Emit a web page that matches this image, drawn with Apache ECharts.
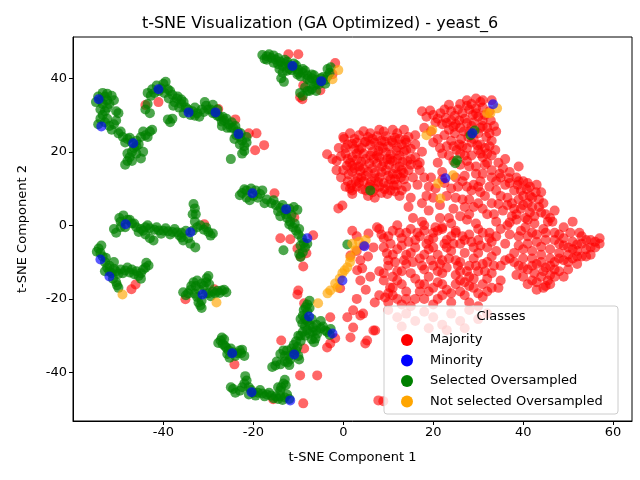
<!DOCTYPE html>
<html><head><meta charset="utf-8">
<script src="https://cdn.jsdelivr.net/npm/echarts@6/dist/echarts.min.js"></script>
<style>html,body{margin:0;padding:0;background:#fff}#c{width:640px;height:480px}</style>
</head><body><div id="c"></div>
<script>
const titleText = 't-SNE Visualization (GA Optimized) - yeast_6';
const seriesNames = ['Majority', 'Minority', 'Selected Oversampled', 'Not selected Oversampled'];
const xTicks = [-40, -20, 0, 20, 40, 60];
const yTicks = [-40, -20, 0, 20, 40];

const majority = [
 // core blob
 [1,22],[2.5,23.5],[4,21],[5.5,24],[7,22.5],[8.5,23],[10,21.5],[11.5,23.8],[13,22],[3,19.5],[5,18],[6.5,20],[8,18.5],[9.5,19.8],[11,17.5],[12.5,19],[14,20.5],[1.5,17],[0.5,19.5],[2,14.5],[3.5,16],[5,13.5],[6.5,15.5],[8,13],[9.5,15],[11,14],[12.5,16],[14.5,15],[1,12],[3,10.5],[4.5,12],[7,10],[9,11.5],[10.5,9.5],[12,11],[13.5,12.5],[0,15],[-1,21],[-0.5,13],[2,8.5],[5.5,8],[8.5,8.8],[15,18],[16,22],[6,25],[9,25.5],[12,25],[3.5,24.5],[14.5,24],[7.5,16.8],[4,17.3],[10.5,12.5],[2.5,20.8],[11.8,20.3],[6.2,12],[13,9.5],[15.5,13],[-1.5,17.5],[1.8,11],[4.8,22.6],[8.8,21],[10.2,16.5],[0.2,23.5],[7.5,24.2],[13.2,17.2],[5.8,10.5],[3.2,13],[9.8,18],[2,16.2],[12,13.8],[6.8,18],[10.8,23],
 [0,24],[1.5,25],[3,22.5],[4.5,19.5],[6,21.8],[7.8,20.2],[9.2,22.8],[10.5,19.2],[12,21.2],[13.8,23.2],[15,20.8],[2,18.5],[3.8,14.8],[5.8,16.8],[7,14.2],[8.6,16],[10,13.5],[11.6,15.5],[13.4,14.2],[14.2,17.5],[0.8,16.2],[-0.5,18.8],[1.2,13.8],[2.8,12],[4.2,9.8],[6,11],[7.8,11.8],[9.2,9.8],[11.2,10.8],[12.8,13],[14,10.5],[16.5,16.5],[16,24.5],[4.5,25.6],[8,26],[11,26],[13.5,26],[2,9.5],[0.5,10.5],[-1.5,15],[17.5,20],[15,7.5],[12.5,8],[7,7.5],
 [0.5,21],[2,22.2],[3.5,20.5],[5,22.8],[6.5,23.5],[8,21.5],[9.5,24.2],[11,22.5],[12.5,23.5],[14,22.5],[3,17.8],[4.5,15.5],[6,19],[7.5,19],[9,17.2],[10.5,18],[12,18],[13.5,20],[1,18],[2.5,15.5],[4,13],[5.5,14.5],[7,12.8],[8.5,14.5],[10,11],[11.5,12.5],[13,15],[15,16.5],[1.5,10],[3.5,11.5],[5,9.5],[6.5,9],[8,10.5],[9.8,8.5],[11.5,9.2],
 // upper right
 [17.5,31],[19.3,31.2],[21.6,30.5],[23.5,32.8],[24.8,29.8],[26.5,30.5],[28,31.5],[29.5,34.5],[31,34],[30,29.5],[32.5,31],[22,27.5],[23.5,26],[25,27.5],[26.8,25.5],[27.5,27.8],[29,23.5],[30.5,26.5],[31.8,24],[32.5,21.5],[33.5,27],[24,23],[25.8,22],[27.5,21],[30,20.5],[22.5,24.5],[20.5,28],[28.5,19],[26,19.5],[31,18.5],[33,23],[34,25.5],[20,22.5],[18,26.5],[28.5,33],[31,32],[29,28],[32,26.5],[30.5,22],[26,33],[24,28.5],[27.8,24],
 [21,29],[22.8,29.2],[25.5,31.5],[27,29],[28.8,30],[31,28.5],[32.8,28.5],[23,21.5],[24.8,25],[26.2,23.5],[28,25.5],[29.8,21.8],[31.5,21],[33.8,20.5],[27,19],[22,19.5],[19.5,25.5],[21,23.5],[25.2,20.5],[29.5,31.8],[33,34],[30.5,33.5],[27.5,34],
 [18.5,29.5],[20,30],[22.5,31.5],[24,31],[25.8,28.5],[27.5,32.5],[29.5,30.5],[31.5,30],[23,27.8],[24.5,26.8],[26,26.5],[28.5,27],[30,25],[31,27],[32.5,25],[24.5,21.5],[26.5,21.5],[28.5,22.5],[30.5,19.5],[32,19.5],[21.5,21],
 // middle
 [16,18.5],[17,15],[16.5,11],[18.5,8],[19,4],[17.5,1],[21,17],[22,14.5],[20.5,10],[23,8],[21.5,5.5],[23.5,2],[25.5,10.5],[27,13.5],[26.5,7],[28.5,9.5],[29,5],[27.5,1.5],[30.5,12],[31.5,8],[32,3],[30,-1],[25,-1.5],[20,-2],[18,0],[24.5,4.5],[19.5,13],[33,15],[31.5,16.5],[28,16],[26,16.5],[23.5,19],[14.5,5],[15.5,2],[22.5,11.5],[29.5,14],
 [17,17],[18,13],[19,10.5],[17.5,6],[20,7.5],[21.5,2],[22,12.5],[24,10],[25,13],[26.5,12],[27.5,10.5],[25,7.5],[28,7],[30,10.5],[30,6],[28,3],[26,2.5],[24,0.5],[22,-0.5],[29.5,16],[32,17],[27.5,17.5],[24.5,17.5],
 // right band
 [33,19],[34.5,17],[35.5,15.5],[37,14.5],[38.5,13],[40,12],[41.5,10.5],[36,18],[34,12],[36,11],[38,9.5],[40,8],[42,7.5],[43,11],[44,9],[35,8],[33,6],[35.5,4],[37.5,6],[39.5,4.5],[41.5,3.5],[43.5,5],[45,3],[34,1],[36.5,0],[38.5,1.5],[40.5,-0.5],[42.5,0.5],[44.5,-1],[46.5,1],[30.5,9],[31,4.5],[29.5,0.5],[32.5,-2],[37,-2.5],[47,4],[49,-0.5],[51,1],[52.5,-2],[27,5],[29,11],[31,14],[39,16],[37.5,2.5],
 [34.8,14],[36.8,12.8],[38.8,11],[40.8,9.8],[42.8,9],[39,7],[41,6],[36.5,7.5],[34.5,5.8],[38.5,3],[40.5,2],[42.5,2.5],[44,3.5],[46,2],[35,-1],[39.5,-1.5],[32.5,10.5],[33,13],
 [35,13],[37,11.5],[39,12],[41,11.5],[39.5,9.5],[41.5,8],[43.5,7],[36.5,5.5],[38,4.5],[40,5.5],[42,5],[44.5,6],[45.5,1],[41,1.5],[37,0.8],[33.5,3],[34,9.5],
 // right blob
 [39,-3],[41,-5],[43,-2.5],[45,-4],[47,-2],[49,-3.5],[51,-4.5],[53,-3],[55,-4],[57,-3.5],[56,-6],[54,-6.5],[52,-7],[50,-6],[48,-7.5],[46,-6.5],[44,-8],[42,-7],[40,-9],[38,-7.5],[39,-11],[41,-12],[43,-10.5],[45,-11.5],[47,-10],[49,-9.5],[51,-9],[53,-8.5],[55,-8],[44,-14],[46,-13.5],[42,-15],[44.5,-17],[48,-12.5],[40,-14],[46,-16],[50,-12],[36,-5],[37,-9],[42,-2],[48,-5],[52,-5.2],
 [40,-6.5],[42,-9],[44,-5.8],[46,-9],[48,-2.5],[50,-8],[52,-10.5],[54,-8.5],[56,-4.5],[50.5,-2],[44.5,-12.5],[42.5,-13],[47,-14],[38.5,-13.5],[41,-16],[43,-17.5],[45.5,-15],[49,-14],
 [41,-3],[43,-4.5],[45,-2],[47,-4],[49,-5.5],[51,-6.5],[53,-5],[55,-6],[57,-5],[54,-4],[48,-9],[50,-10],[52,-8.5],[46,-11],[44,-10],[42,-11],[40,-11.5],[43,-15.5],[45,-16.5],[47,-12],[39,-5.5],[38,-10],
 // lower band
 [8,-1],[10,-3],[12,0],[14,-2],[16,-4],[18,-1.5],[20,-3.5],[22,-1],[24,-3],[26,-5],[28,-2.5],[30,-4],[32,-6],[34,-3],[9,-6],[11,-8],[13,-5.5],[15,-7.5],[17,-9],[19,-6.5],[21,-8],[23,-6],[25,-9.5],[27,-7.5],[29,-9],[31,-10.5],[33,-8.5],[35,-11],[10,-11],[12,-12.5],[14,-10.5],[18,-12],[20,-11],[22,-13],[26,-12.5],[28,-14],[30,-12.5],[32,-14.5],[9,-15],[11,-17],[13,-16],[8,-19],[10,-21],[12,-20],[17,-16],[19,-18],[21,-15.5],[23,-17.5],[25,-16],[27,-19],[29,-17],[31,-19.5],[33,-17],[35,-15],[16,-20],[24,-21],[20,-21.5],
 [9,-3.5],[11,-1.5],[13,-3.5],[15,-1],[17,-3],[19,-4],[21,-1.5],[23,-4],[25,-2],[27,-4],[29,-6],[31,-2],[33,-4.5],[10,-9.5],[12,-6.5],[14,-8],[16,-6],[18,-8],[20,-6],[22,-9.5],[24,-7],[26,-10],[28,-11],[30,-7.5],[32,-10],[34,-7],[36,-9.5],[11,-14],[13,-12.5],[15,-13],[19,-14],[21,-12.5],[23,-11.5],[25,-13.5],[27,-15.5],[29,-14.5],[31,-16],[33,-13],[34.5,-17],[10,-18.5],[14,-18],[18,-20],[22,-19],[26,-18],[28,-21],[30,-22],[15,-22],[13,-21.5],
 [8.5,-2.5],[10.5,-5],[12.5,-2],[14.5,-4.5],[16.5,-2],[18.5,-5],[20.5,-0.5],[22.5,-5],[24.5,-5],[26.5,-3],[28.5,-4.5],[30.5,-5.5],[32.5,-3.5],[11.5,-10],[13.5,-9.5],[15.5,-10],[17.5,-11],[19.5,-9.5],[21.5,-10.5],[23.5,-9],[25.5,-11],[27.5,-12.5],[29.5,-11],[31.5,-12.5],[33.5,-11],[12,-15],[16,-14.5],[18,-16],[20,-17],[22,-16],[24,-18.5],[26,-15],[28,-16.5],[30,-18.5],[32,-18],[9,-13],[11,-19],[14,-20],[17,-18],[21,-20],
 [10,-23],[12,-25],[14,-24],[16,-26],[18,-23.5],[20,-25],[22,-27],[24,-24],[26,-26],[28,-23],[30,-25.5],[32,-24],[19,-28],[23,-28.5],[13,-27.5],[27,-28],
 // lower left of main cluster
 [5.6,-2.2],[7.5,-0.5],[6.7,-6],[9.7,-7.6],[4.2,-11.7],[3.8,-9.5],[6,-14],[8,-12.5],[10.4,-16.9],[9.3,-19.6],[5,-17.5],[7,-21],[3,-20],[0.9,-25],[3.8,-24.5],[2.2,-27.8],[6.7,-28.6],[5.3,-31.3],[-2.9,-25],[1.6,-30.5],[4.9,-32.1],[-2.9,-32.1],[-3.6,-33.2],[-1.8,-30.7],[7.1,-28.6],[2.2,-23.1],[4.4,-24],[3,-3],[4.5,-5.5],[2,-1.5],[-1.1,4.6],[-0.2,5.4],[3.1,-12.2],[3.8,-15],[1.6,-8.2],[-0.7,-17.1],[3,-7],[5.5,-8.5],[7.8,-47.6],[8.9,-47.8],[-3.6,19.3],[-2.4,18],
 // around green clusters
 [-44,32.7],[-41.1,33.5],[-27.8,31.6],[-24,28.8],[-19.3,25],[-19.6,20.4],[-17.6,21.8],[-21,25],
 [-12.2,46.5],[-10,46.5],[-1.8,44.1],[-2.4,41.1],[-8.9,38.1],[-5.1,36.7],[-9.1,34.3],[-9.6,34.8],
 [-15.3,8.7],[-10.9,2.2],[-14,-3.5],[-11.8,-3.8],[-6.7,-2.7],[-10.2,-6.3],[-8.2,-7.6],[-8.9,-11.2],[-9.5,-8.5],
 [-30.9,0.3],[-47.1,-17.4],[-46.2,-16.1],[-35.1,-20.1],[-28.7,-17.4],[-24.2,-37.8],
 [-13.8,-31.3],[-8.7,-33.5],[-9.6,-40.8],[-5.8,-40.8],[-8.9,-48.4],[-10,-17.7],[-8.7,-21.2],[-15.6,-47.3],[-10.2,-18.8]
];

const minority = [
 [-54.4,34.3],[-53.8,26.9],[-46.7,22.3],[-41.1,37],[-34.4,30.7],[-28.4,30.7],[-23.3,24.8],[-11.3,43.3],[-4.9,39.2],[-20.2,8.7],[-12.7,4.4],[-8,-3.5],[-48.4,0.3],[-34,-1.9],[-54,-9.3],[-52,-13.9],[-31.3,-18.8],[-24.7,-34.8],[-20.4,-45.4],[-11.8,-47.6],[-7.6,-24.8],[-2.4,-29.4],[-10.9,-35.1],[-0.2,-15],[4.7,-5.7],[22.7,12.8],[28.7,25],[33.3,32.9]
];

const selected = [
 [-54.5,35],[-53.5,36],[-52.5,35.8],[-51.5,35.2],[-51,34],[-52.5,34],[-53.5,33],[-54,31.5],[-53.5,30],[-54,29],[-53,28],[-52,27],[-51,27.5],[-50.5,31],[-50,30.5],[-50,25],[-49,24],[-48,23.5],[-47,22.5],[-46,23],[-45,24],[-44,24.5],[-43,25.5],[-42.5,26],[-46.5,21],[-47,20],[-47.5,18.5],[-48,17.5],[-48.5,16.5],[-46,19.5],[-45,18.2],[-44.5,20],[-45.5,22],[-52.5,32],
 [-53,35],[-54,34],[-52,33],[-53,31],[-52.5,29],[-51.5,26],[-49.5,25.5],[-48.5,22.5],[-47.5,23.8],[-44.5,25.5],[-46,21.5],[-48,19.5],[-47,17.5],[-43.5,24],[-54.5,27.5],[-55,33.5],[-50.5,28.5],
 [-43.5,36],[-42.5,37],[-41.5,38],[-40,38.5],[-39,37],[-38,35.5],[-37,34.5],[-36,33],[-35,32],[-33.5,31],[-32.5,30.5],[-31.5,31.5],[-30.5,32.5],[-29.5,31.5],[-28.5,30.5],[-27.5,29.5],[-26.5,28.5],[-25.5,27.5],[-24.5,26.5],[-23.5,25.5],[-23,24],[-22.5,23],[-22,21.5],[-22,20.2],[-44,31.5],[-43.5,33],[-39,28.8],[-38,29],[-25,18],[-35.5,30.5],[-27,27],[-24.2,23.5],
 [-42,36],[-40.5,37.2],[-39.5,39],[-38.5,36.5],[-37.5,33.5],[-36.5,32],[-34.5,31.5],[-33,32],[-31,30.8],[-30,31.5],[-29,32.8],[-28,29.8],[-27,28.2],[-26,29],[-25,26.5],[-24,27],[-22.8,25],[-21.5,22.5],[-21.5,24],[-43,30.5],[-38.5,28],[-36,34.2],[-33,29.8],
 [-42.8,35.2],[-41,36.5],[-39.8,36],[-38.8,34.5],[-37.8,32.5],[-36.8,35],[-35.5,33.5],[-34,30],[-32,29.5],[-30.8,33.5],[-29,30.5],[-28,31.5],[-26.8,29.5],[-25.8,26.5],[-24.8,28],[-23.8,24.5],[-23,22],[-22.5,19.5],
 [-18,46.3],[-17,46],[-16,45.5],[-15,45],[-14,44.5],[-13,44],[-12,43.5],[-11,43],[-10,42.3],[-9,41.5],[-8,40.8],[-7,40],[-6,39.5],[-5,39],[-4,39.5],[-3,41.5],[-2.8,43],[-13.5,41.5],[-13.8,40],[-13.2,39],[-8.5,37.5],[-7,37],[-6,36.5],[-9,35.2],[-10.2,41],[-12.5,42],
 [-17.5,45.2],[-16.5,46.5],[-15.5,44.2],[-14.5,45.5],[-13.5,43.3],[-12.5,44.5],[-11.5,42.2],[-10.5,43.5],[-9.5,40.5],[-8.5,42],[-7.5,39.5],[-6.5,40.8],[-5.5,38.3],[-4.5,40.3],[-3.5,42.5],[-14.2,42.5],[-7.5,36.5],[-9.6,36],
 [-17,45],[-15.5,46.2],[-14.5,43.8],[-13,45],[-12,42.5],[-11,44],[-10,41.5],[-9,42.5],[-8,39.8],[-7,41],[-6,38.5],[-5,40],[-4,38.5],[-3.5,40.5],[-8,36.5],[-6.5,38],
 [-22.5,8.8],[-21.5,9.5],[-20.5,10],[-19.5,9.5],[-18.5,8.5],[-21.5,7.5],[-19,7.5],[-17,7],[-16,6],[-15,5.5],[-14,4.8],[-13,4],[-12,4.5],[-11,5],[-14,2.5],[-12.5,2],[-11.8,1],[-11.2,-0.5],[-10.5,-1.5],[-10,-2.5],[-9.2,-3.5],[-8.8,-4.8],[-8.5,-6],[-9,-7.3],[-9.5,-8.6],[-13.3,-6.8],
 [-22,9.8],[-20,8],[-18,9.5],[-17.5,6],[-15.5,6.8],[-14.5,3.8],[-13.5,5.5],[-12.8,3],[-11.5,2.8],[-10.2,4.2],[-12,0.2],[-10.8,0.5],[-9.8,-1],[-9.5,-5.5],[-8,-5],[-9.8,-7.8],[-23,8.2],[-20.8,6.8],
 [-50.5,-2],[-49.5,-0.5],[-48.9,2.7],[-48,1.5],[-47,0.5],[-46,-0.5],[-45,-1],[-44,-0.5],[-43,-0.8],[-42,-1.2],[-41,-1.4],[-40,-1.5],[-39,-1.6],[-38,-1.8],[-37,-1.9],[-36,-2],[-35,-1.5],[-44,-2.5],[-43,-3.5],[-42.2,-4.1],[-35.6,-4.1],[-33,4.6],[-32.8,3],[-33,1],[-32.5,-0.5],[-31,-1.2],[-30,-1.8],[-29,-2.2],[-32.9,-6],[-34.5,-3.5],[-49.5,1],
 [-49.8,2],[-48.5,-0.5],[-47.5,1.5],[-46.5,0.5],[-45.5,-1.8],[-44.5,-1.5],[-43.5,0],[-41.5,-0.5],[-40.5,-2.3],[-39.5,-0.8],[-38.5,-2.5],[-37.5,-1],[-36.5,-2.7],[-33.5,3],[-33.5,-1.5],[-31.8,0],[-30.5,-0.6],[-29.5,-2.8],[-34,-5],[-51,-1],[-36,-3.3],[-33.3,5.8],
 [-54.4,-6.3],[-54,-7.5],[-53.5,-8.5],[-53,-10],[-52.5,-11.5],[-52,-12.5],[-51.5,-13],[-50.5,-12.5],[-49.5,-12],[-48.5,-12.3],[-47.5,-12.8],[-46.5,-13.3],[-45.5,-13.8],[-45,-14.5],[-43.3,-10.9],[-44,-11.5],[-50.5,-15.5],[-50,-17],[-51,-10],
 [-53.8,-5.5],[-54.8,-7.2],[-52.8,-8.8],[-52,-11],[-51,-11.8],[-50,-13.2],[-49,-13],[-48,-11.5],[-47,-12],[-46,-12.5],[-45,-13],[-44.5,-12],[-43.8,-10.2],[-50.3,-16.3],[-51.2,-14.5],[-53,-12.5],
 [-33.3,-15.5],[-32.8,-16.5],[-32,-17.5],[-30.4,-14.4],[-30.5,-15.5],[-31,-16.5],[-35.6,-18.2],[-34.5,-18.5],[-33,-18.6],[-30,-18.5],[-29,-18],[-28,-17.8],[-27,-17.7],[-26.5,-17.5],[-31.8,-21.8],[-31.5,-20.5],[-30.5,-18.5],
 [-33.8,-16.5],[-32.5,-15],[-31.5,-15.8],[-30,-13.8],[-29.8,-16],[-35,-19],[-32.5,-19.5],[-29.5,-19.3],[-28.5,-18.5],[-27.5,-18.4],[-26,-18.2],[-32.2,-21],[-31.5,-22.5],[-34,-17.6],
 [-27.3,-31.3],[-26.8,-32.3],[-26,-33.3],[-25.5,-34],[-24.5,-34.5],[-23.5,-34.8],[-22.7,-34.8],[-22.5,-33.8],[-26.5,-31],[-25.3,-36],
 [-27,-30.5],[-26.3,-32.8],[-25,-33.5],[-24,-35.5],[-23,-34],[-22,-35.5],[-25.8,-35],[-27.8,-32],
 [-24.5,-44.5],[-23,-45],[-22,-43],[-21.5,-42.2],[-21,-44],[-20,-45.5],[-19,-45.5],[-18,-45.7],[-17,-46],[-16,-46.3],[-15,-46.5],[-14,-46.5],[-13,-46.8],[-12,-47.2],[-14,-45],[-13.3,-43],[-13,-42],[-14.5,-44],
 [-24,-45.5],[-22.5,-44],[-21.8,-41],[-20.5,-44.8],[-19.5,-46.3],[-18.5,-44.8],[-17.5,-46.5],[-16.5,-45.5],[-15.5,-47],[-14.5,-47.2],[-13.5,-47.5],[-12.5,-46],[-13.8,-44],[-12.8,-43.5],[-25,-44],[-21,-46],
 [-8.4,-22.3],[-8,-23.5],[-9,-24.5],[-9.1,-26.7],[-8,-26],[-7,-25.5],[-6.7,-27.8],[-6,-27],[-5,-28],[-4,-28.6],[-3.6,-29],[-2.8,-28.2],[-5.8,-29.5],[-6.2,-30.8],[-6.5,-31.8],[-7.5,-29.5],[-8,-28.5],[-9,-29],[-10,-30],[-10.5,-31.5],[-11,-32.5],[-11.5,-33.5],[-12.5,-34],[-13.3,-34],[-12.4,-37.3],[-11.8,-36.5],[-15.1,-38.1],[-14,-37.8],[-10,-35.5],[-9.5,-30],[-5,-26],[-8,-21.5],[-7.5,-20.5],
 [-8.8,-23],[-7.5,-22.5],[-9.5,-25.5],[-8.5,-25.5],[-8.5,-27.5],[-7.5,-27],[-6,-28.6],[-4.5,-27.5],[-3,-29.8],[-6.8,-29],[-7,-31],[-8.5,-30],[-9.5,-31.5],[-10.2,-33],[-11,-34.5],[-12,-35.5],[-13,-35.5],[-14,-35],[-13,-37],[-12,-38],[-14.8,-37],[-15.8,-38.5],[-9.8,-36.5],[-10.5,-34],
 [0.9,-5.2],[6,9.5],[25.3,17.7],[24.9,16.9],[28.3,24.5],[29.2,25.8]
];

const notSelected = [
 [-1.1,42.2],[-2.4,39.7],[-49.1,-18.8],[-28.2,-21],[-5.6,-21.2],[2.7,-6.8],[1.6,-8.7],[0.9,-11.4],[-0.2,-13],[-0.8,-14.5],[-1.3,-16.9],[-2.9,-17.7],[-3.5,-18.5],[3.5,-4.5],[5,-4],[2,-5],[1.5,-10],[0.3,-12.2],[-1.8,-15.8],[19.8,25.9],[24.4,13.6],[21.1,11.4],[21.6,7.3],[32,30.5],[34.2,31.8],[32.7,30.5],[18.5,24.5]
];

const colors = ['#ff0000', '#0000ff', '#008000', '#ffa500'];
const opacities = [0.6, 0.65, 0.7, 0.65];
const dataSets = [majority, minority, selected, notSelected];
const drawOrder = [0, 2, 3, 1];

const chart = echarts.init(document.getElementById('c'), null, {renderer: 'canvas'});
const font = 'DejaVu Sans';
const series = drawOrder.map((i, k) => ({
  name: seriesNames[i],
  type: 'scatter',
  data: dataSets[i],
  symbolSize: 10,
  z: 2 + k,
  itemStyle: {color: colors[i], opacity: opacities[i]},
  emphasis: {disabled: true},
  animation: false
}));

chart.setOption({
  animation: false,
  textStyle: {fontFamily: font},
  title: {
    text: titleText, left: 'center', top: 11,
    textStyle: {fontFamily: font, fontSize: 16, fontWeight: 'normal', color: '#000'}
  },
  grid: {left: 73, right: 8, top: 37, bottom: 59, show: true, borderColor: '#000', borderWidth: 1, backgroundColor: 'transparent'},
  xAxis: {
    type: 'value', min: -60.1, max: 64.2,
    name: 't-SNE Component 1', nameLocation: 'middle', nameGap: 30,
    nameTextStyle: {fontFamily: font, fontSize: 13, color: '#000'},
    splitLine: {show: false},
    axisLine: {show: true, onZero: false, lineStyle: {color: '#000'}},
    axisTick: {show: true, length: 4, customValues: xTicks, lineStyle: {color: '#000'}},
    axisLabel: {customValues: xTicks, fontFamily: font, fontSize: 13, color: '#000', margin: 5}
  },
  yAxis: {
    type: 'value', min: -53.2, max: 51.2,
    name: 't-SNE Component 2', nameLocation: 'middle', nameGap: 44,
    nameTextStyle: {fontFamily: font, fontSize: 13, color: '#000'},
    splitLine: {show: false},
    axisLine: {show: true, onZero: false, lineStyle: {color: '#000'}},
    axisTick: {show: true, length: 4, customValues: yTicks, lineStyle: {color: '#000'}},
    axisLabel: {customValues: yTicks, fontFamily: font, fontSize: 13, color: '#000', margin: 6}
  },
  legend: {
    orient: 'vertical', left: 396, top: 328, z: 20,
    data: seriesNames.map((n, i) => ({name: n, icon: 'circle', itemStyle: {color: colors[i], opacity: 1}})),
    itemWidth: 12, itemHeight: 12, itemGap: 6.5,
    selectedMode: false,
    textStyle: {fontFamily: font, fontSize: 13, color: '#000', padding: [0, 0, 0, 12], lineHeight: 14}
  },
  graphic: [
    {type: 'rect', z: 15, shape: {x: 384, y: 306, width: 234, height: 108, r: 3},
     style: {fill: 'rgba(255,255,255,0.8)', stroke: '#cccccc', lineWidth: 1}},
    {type: 'text', z: 20, x: 501, y: 317,
     style: {text: 'Classes', fontFamily: font, fontSize: 13, fill: '#000', align: 'center', verticalAlign: 'middle'}}
  ],
  series: series
});
</script>
</body></html>
